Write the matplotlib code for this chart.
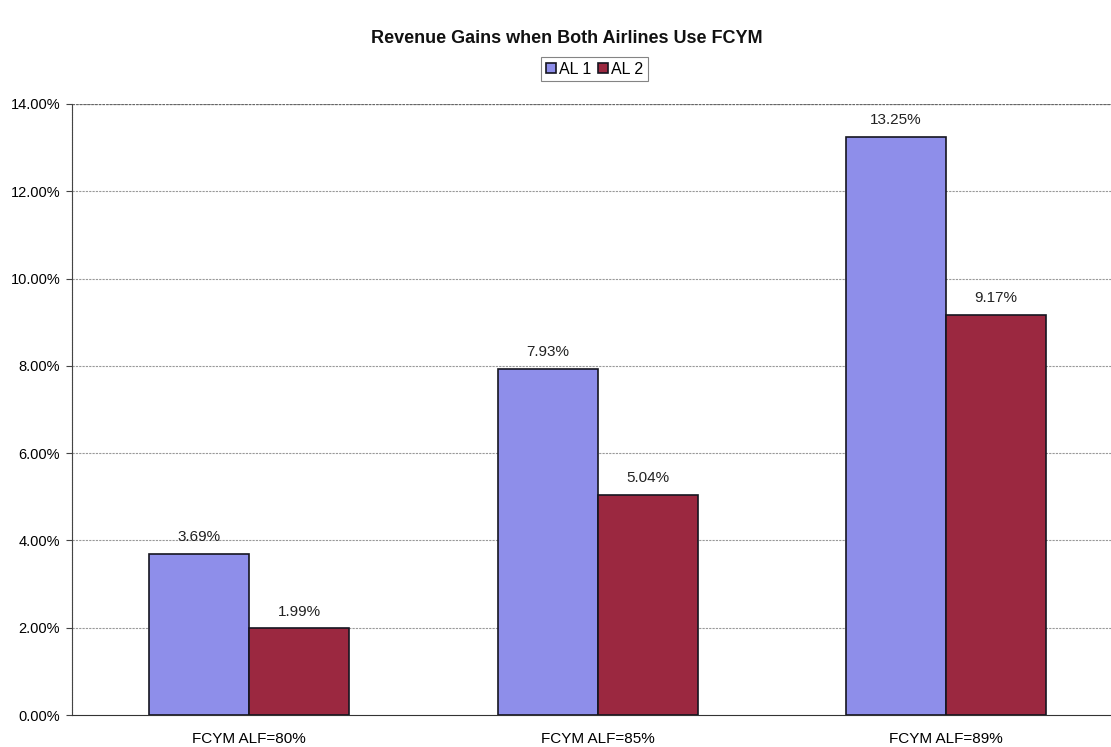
import matplotlib.pyplot as plt
import numpy as np

plt.rcParams['font.family'] = ['Liberation Sans', 'DejaVu Sans']

categories = ["FCYM ALF=80%", "FCYM ALF=85%", "FCYM ALF=89%"]
series_names = ["AL 1", "AL 2"]
al1 = [3.69, 7.93, 13.25]
al2 = [1.99, 5.04, 9.17]
yticks = [0, 2, 4, 6, 8, 10, 12, 14]

fig = plt.figure(figsize=(11.11, 7.47), dpi=100)
ax = fig.add_axes([0.0648, 0.0428, 0.9352, 0.818])

x = np.arange(len(categories))
w = 0.287
b1 = ax.bar(x - w/2, al1, w, color='#8E8EEA', edgecolor='#151520', linewidth=1.2, label=series_names[0], zorder=3)
b2 = ax.bar(x + w/2, al2, w, color='#9B2840', edgecolor='#151520', linewidth=1.2, label=series_names[1], zorder=3)

for bars, vals in ((b1, al1), (b2, al2)):
    for rect, v in zip(bars, vals):
        ax.text(rect.get_x() + rect.get_width()/2, v + 0.22, f"{v:.2f}%",
                ha='center', va='bottom', fontsize=11, color='#222222')

ax.set_xlim(-0.508, 2.473)
ax.set_ylim(0, 14)
ax.set_yticks(yticks)
ax.set_yticklabels([f"{t:.2f}%" for t in yticks], fontsize=10.5)
ax.set_xticks(x)
ax.set_xticklabels(categories, fontsize=11)
ax.tick_params(axis='x', length=0, pad=12)
ax.tick_params(axis='y', length=4, width=0.8, color='#444444', pad=4.5)

for t in yticks[1:]:
    ax.axhline(t, color='#999999', linewidth=0.8, linestyle=(0, (2, 1)), zorder=1)
ax.axhline(14, color='#666666', linewidth=0.9, linestyle=(0, (2, 1)), zorder=1)

for side in ('top', 'right'):
    ax.spines[side].set_visible(False)
ax.spines['left'].set_color('#444444')
ax.spines['left'].set_linestyle((0, (1, 0.5)))
ax.spines['bottom'].set_color('#333333')
ax.spines['bottom'].set_linestyle((0, (2, 1)))

fig.text(0.510, 0.949, "Revenue Gains when Both Airlines Use FCYM", ha='center', va='center',
         fontsize=13, fontweight='bold', color='#111111')

leg = ax.legend(loc='center', bbox_to_anchor=(0.503, 1.057), ncol=2, frameon=True,
                fontsize=11.5, handlelength=0.65, handleheight=0.65, handletextpad=0.2,
                columnspacing=0.4, borderpad=0.3, fancybox=False, edgecolor='#666666')
leg.get_frame().set_linewidth(0.8)

fig.savefig("out.png", dpi=100)
